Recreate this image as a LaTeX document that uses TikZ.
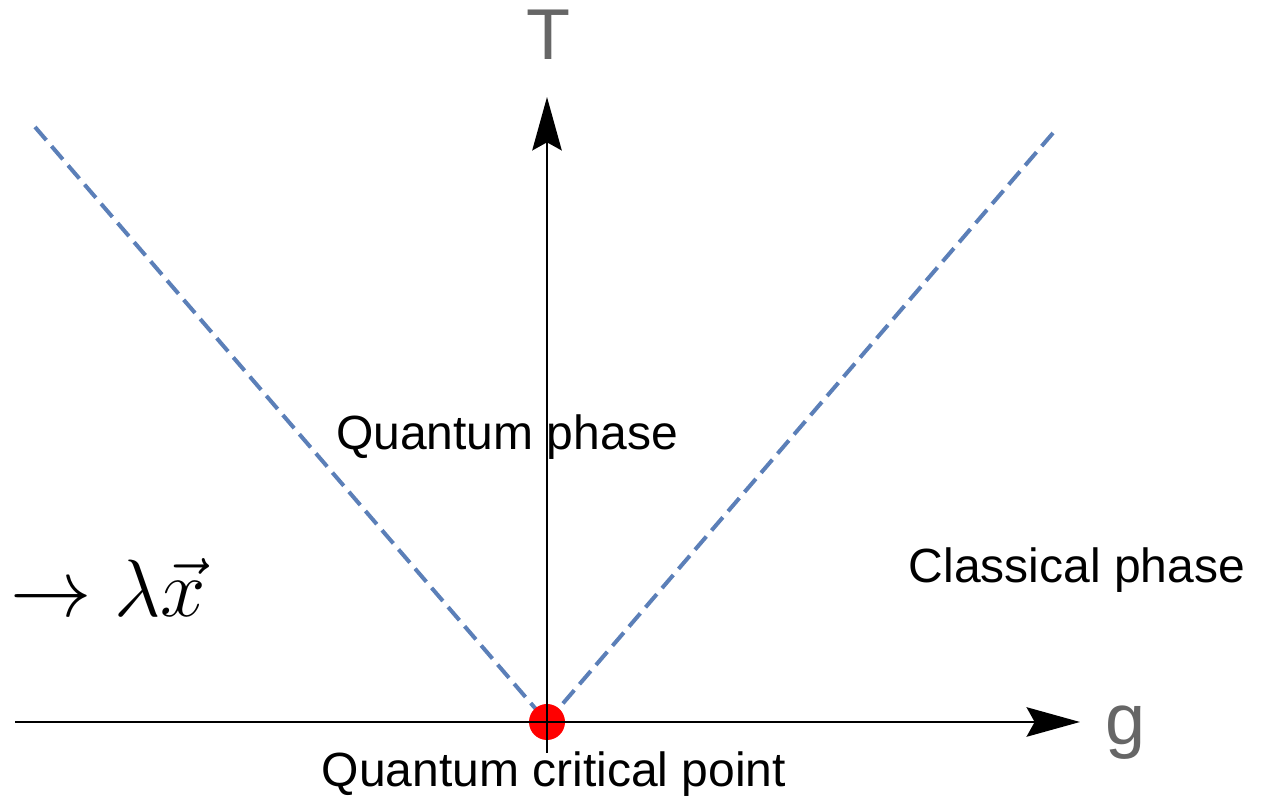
\documentclass[tikz,border=0pt]{standalone}
\usepackage{fix-cm}
\usepackage{fontspec}
\setmainfont{Liberation Sans}
\usepackage{xcolor}
\usetikzlibrary{arrows.meta}
\definecolor{lineblue}{RGB}{91,127,184}
\definecolor{axisgray}{RGB}{102,102,102}

\begin{document}
\begin{tikzpicture}[x=0.75pt,y=0.75pt,
  axis/.style={line width=2.2pt,-{Stealth[length=40pt,width=22pt,inset=6pt]}},
  crossover/.style={line width=3pt,lineblue,dash pattern=on 13pt off 6pt},
  lbl/.style={font=\fontsize{36}{40}\selectfont,anchor=base,inner sep=0pt},
  axlbl/.style={font=\fontsize{54}{60}\selectfont,text=axisgray,anchor=base,inner sep=0pt}]
\useasboundingbox (0,0) rectangle (1261,799);
\coordinate (qcp) at (547,77);
\coordinate (gstart) at (15,77);
\coordinate (gend) at (1080,77);
\coordinate (tstart) at (547,46);
\coordinate (tend) at (547,702);
\coordinate (leftup) at (35,672);
\coordinate (rightup) at (1053,666);
\draw[crossover] (leftup) -- (qcp);
\draw[crossover] (rightup) -- (qcp);
\fill[red] (qcp) circle (18);
\draw[axis] (gstart) -- (gend);
\draw[axis] (tstart) -- (tend);
\node[axlbl] (tlabel) at (548,739) {T};
\node[axlbl] (glabel) at (1126,54) {g};
\node[lbl] (quantum) at (507,349) {Quantum phase};
\node[lbl] (classical) at (1077,216) {Classical phase};
\node[lbl] (critical) at (554,12) {Quantum critical point};
\node[anchor=base west,inner sep=0pt,font=\fontsize{61}{66}\selectfont] (scaling) at (10,182) {$\to\lambda\vec{x}$};
\end{tikzpicture}
\end{document}
